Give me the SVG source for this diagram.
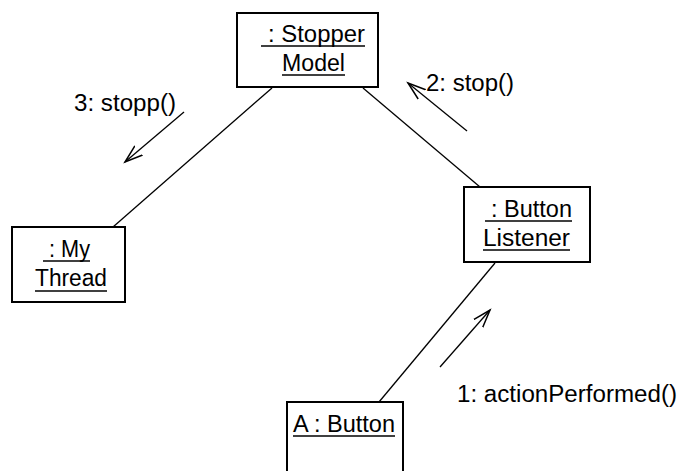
<svg xmlns="http://www.w3.org/2000/svg" width="682" height="471" viewBox="0 0 682 471">
<defs>
<style>
.box{fill:#fff;stroke:#000;stroke-width:2}
.ln{stroke:#000;stroke-width:1.3;fill:none}
.ul{stroke:#000;stroke-width:1.5}
text{font-family:"Liberation Sans",Arial,sans-serif;font-size:23px;fill:#000}
</style>
<marker id="open" markerUnits="userSpaceOnUse" markerWidth="22" markerHeight="16" refX="18" refY="8" orient="auto" viewBox="0 0 22 16">
<path d="M0,2 L18,8 L0,14" fill="none" stroke="#000" stroke-width="1.5"/>
</marker>
</defs>
<rect width="682" height="471" fill="#fff"/>
<g id="connectors">
<line class="ln" x1="272" y1="88" x2="113" y2="227"/>
<line class="ln" x1="363" y1="88" x2="480" y2="187"/>
<line class="ln" x1="495" y1="263" x2="379" y2="402"/>
<line class="ln" x1="184" y1="112" x2="125" y2="162" marker-end="url(#open)"/>
<line class="ln" x1="467" y1="131" x2="408" y2="83" marker-end="url(#open)"/>
<line class="ln" x1="440" y1="367" x2="490" y2="310" marker-end="url(#open)"/>
<text x="74" y="111" textLength="102" lengthAdjust="spacingAndGlyphs">3: stopp()</text>
<text x="426" y="91" textLength="88" lengthAdjust="spacingAndGlyphs">2: stop()</text>
<text x="457" y="402" textLength="220" lengthAdjust="spacingAndGlyphs">1: actionPerformed()</text>
</g>
<g id="stopper-model">
<rect class="box" x="237" y="13" width="141" height="74"/>
<text x="268" y="42" textLength="97" lengthAdjust="spacingAndGlyphs">: Stopper</text>
<line class="ul" x1="261" y1="46" x2="365" y2="46"/>
<text x="282" y="71" textLength="63" lengthAdjust="spacingAndGlyphs">Model</text>
<line class="ul" x1="282" y1="75" x2="345" y2="75"/>
</g>
<g id="my-thread">
<rect class="box" x="12" y="227" width="113" height="75"/>
<text x="49" y="257" textLength="41" lengthAdjust="spacingAndGlyphs">: My</text>
<line class="ul" x1="43" y1="261" x2="90" y2="261"/>
<text x="35" y="286" textLength="72" lengthAdjust="spacingAndGlyphs">Thread</text>
<line class="ul" x1="35" y1="291" x2="107" y2="291"/>
</g>
<g id="button-listener">
<rect class="box" x="464" y="187" width="126" height="75"/>
<text x="491" y="217" textLength="81" lengthAdjust="spacingAndGlyphs">: Button</text>
<line class="ul" x1="485" y1="221" x2="572" y2="221"/>
<text x="483" y="246" textLength="87" lengthAdjust="spacingAndGlyphs">Listener</text>
<line class="ul" x1="483" y1="250" x2="570" y2="250"/>
</g>
<g id="a-button">
<rect class="box" x="287" y="402" width="116" height="80"/>
<text x="293" y="432" textLength="102" lengthAdjust="spacingAndGlyphs">A : Button</text>
<line class="ul" x1="293" y1="436" x2="395" y2="436"/>
</g>
</svg>
